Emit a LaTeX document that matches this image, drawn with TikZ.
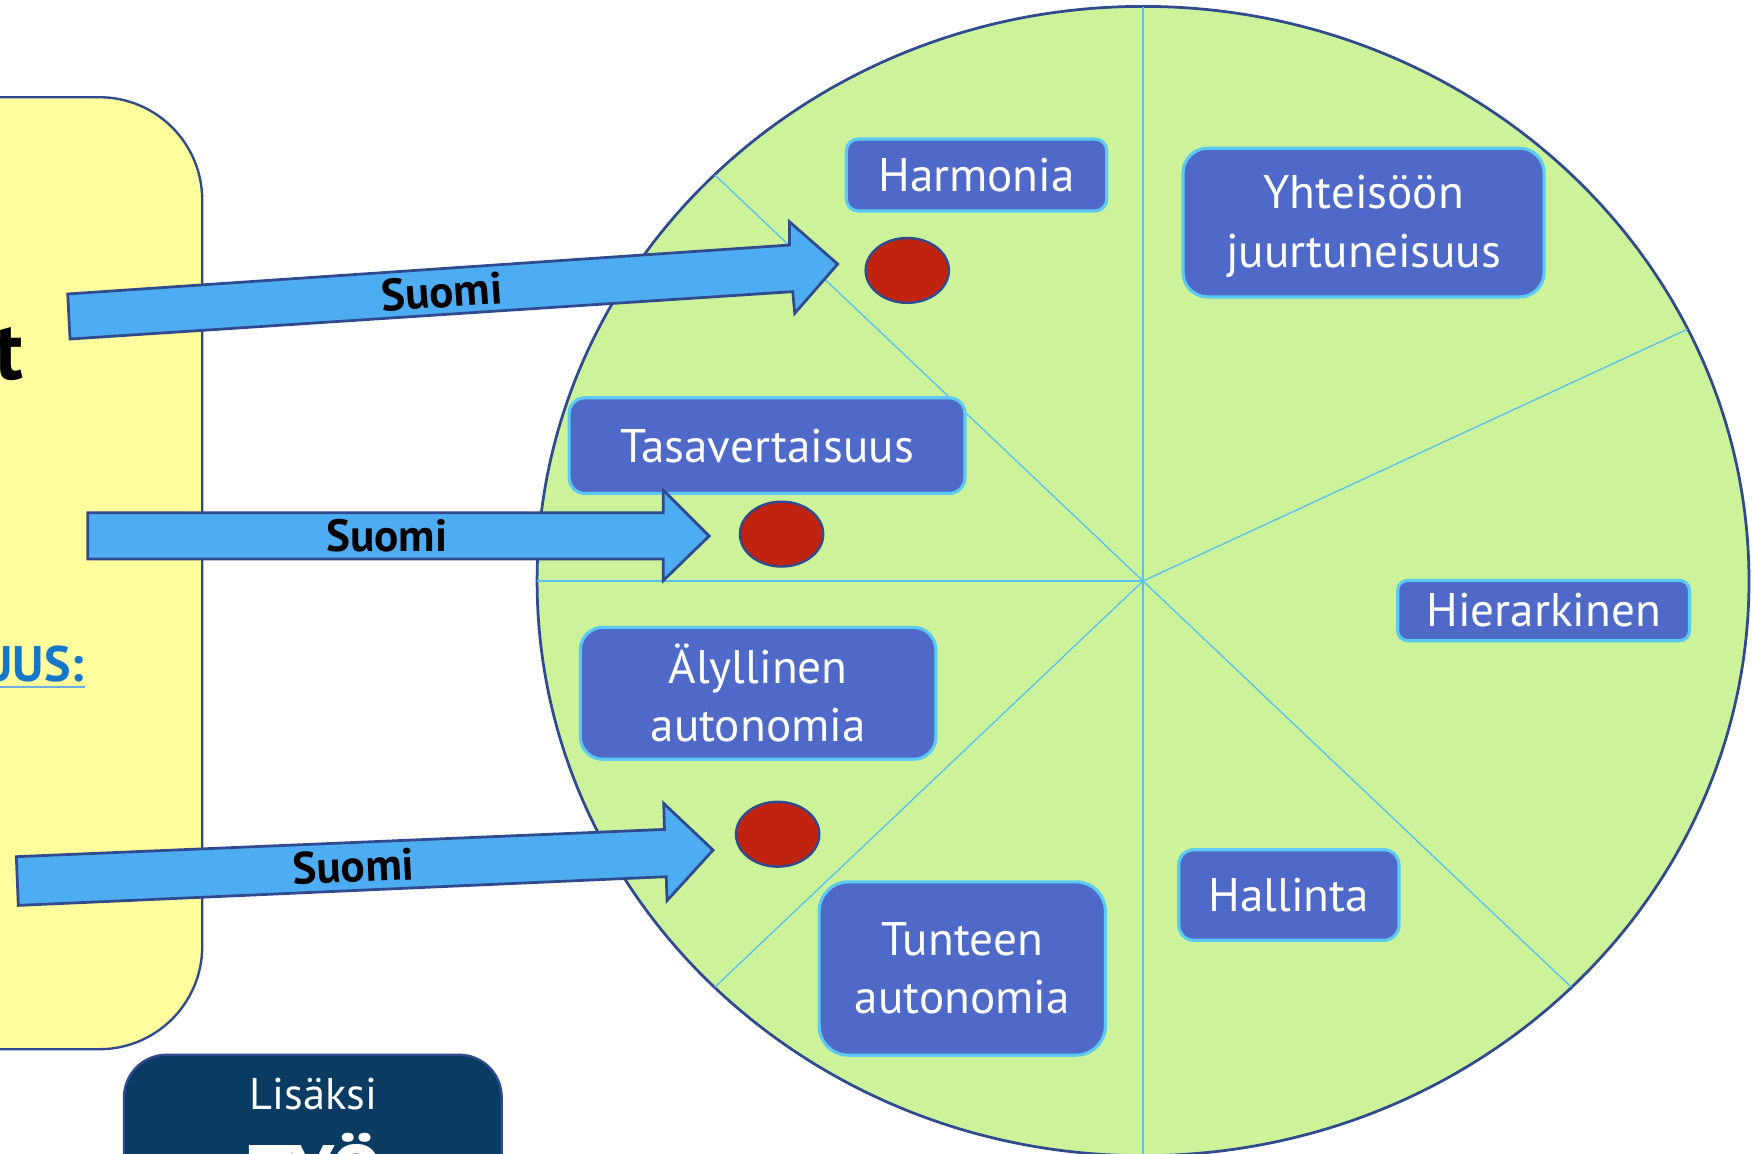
\documentclass[tikz,border=0pt]{standalone}
\usepackage{fontspec}
\setmainfont{PT Sans}
\usetikzlibrary{shapes.geometric}

\definecolor{keltainen}{HTML}{FFFE9C}
\definecolor{tummasininen}{HTML}{2F4A8F}
\definecolor{vihrea}{HTML}{CCF29A}
\definecolor{sade}{HTML}{5BC2EE}
\definecolor{laatikko}{HTML}{4F69C8}
\definecolor{reuna}{HTML}{5BCBF5}
\definecolor{punainen}{HTML}{C0230E}
\definecolor{nuoli}{HTML}{4EADF2}
\definecolor{laivasto}{HTML}{0A3B63}
\definecolor{linkki}{HTML}{1577C9}

\tikzset{
	arvo/.style = {draw = reuna, fill = laatikko, line width = 0.8pt, rounded corners = #1,
		text = white, font = \fontsize{12}{14.8}\selectfont, align = center, inner sep = 0pt},
	piste/.style = {ellipse, draw = tummasininen, fill = punainen, line width = 0.6pt,
		minimum width = 0.745cm, minimum height = 0.58cm, inner sep = 0pt},
	nuolikuva/.style = {draw = tummasininen, fill = nuoli, line width = 0.7pt, line join = miter},
	maa/.style = {font = \bfseries\fontsize{11.5}{13}\selectfont, inner sep = 0pt}
}

\begin{document}
\begin{tikzpicture}[
			x = 0.01cm,
			y = -0.01cm
			]

			\clip (0,0) rectangle (1568,1032);
			\fill[white] (0,0) rectangle (1568,1032);

			\draw[draw = tummasininen, fill = keltainen, line width = 0.6pt, rounded corners = 0.92cm] (-200,87) rectangle (181,939);
			\node[anchor = base east, font = \bfseries\fontsize{21}{25}\selectfont, inner sep = 0pt] (otsikko) at (22,340) {t};
			\node[anchor = base east, text = linkki, font = \bfseries\fontsize{12.7}{15}\selectfont, inner sep = 0pt] (uus) at (76,610) {UUS:};
			\draw[linkki!60, line width = 0.5pt] ([yshift = -1.3pt]uus.base west) -- ([yshift = -1.3pt]uus.base east);

			\draw[draw = tummasininen, fill = laivasto, line width = 0.6pt, rounded corners = 0.38cm] (111,944) rectangle (449,1250);
			\node[anchor = base, text = white, font = \fontsize{11.3}{13}\selectfont, inner sep = 0pt] (lisaksi) at (280.4,992.6) {Lisäksi};
			\node[anchor = base west, text = white, font = \bfseries\fontsize{20}{24}\selectfont, inner sep = 0pt] (tyo) at (222,1074) {TYÖ};

			\draw[draw = tummasininen, fill = vihrea, line width = 0.7pt] (1023,520) ellipse [x radius = 5.42cm, y radius = 5.14cm];
			\coordinate (keskus) at (1023,520);

			\foreach \a in {90,135,180,225,270,315,26}{
				\draw[sade, line width = 0.35pt] (keskus) -- ({1023+542*cos(\a)},{520-514*sin(\a)});
			}

			\node[arvo = 0.107cm, minimum width = 2.33cm, minimum height = 0.644cm] (harmonia) at (874,156.6) {Harmonia};
			\node[arvo = 0.22cm, minimum width = 3.23cm, minimum height = 1.33cm] (yhteiso) at (1220.4,199.2) {};
			\node[text = white, font = \fontsize{12}{14.8}\selectfont, align = center, inner sep = 0pt] (yhteisoteksti) at (1220.4,202.5) {Yhteisöön\\juurtuneisuus};
			\node[arvo = 0.14cm, minimum width = 3.54cm, minimum height = 0.855cm] (tasa) at (686.5,398.8) {Tasavertaisuus};
			\node[arvo = 0.2cm, minimum width = 3.18cm, minimum height = 1.18cm] (aly) at (678.5,620.5) {Älyllinen\\autonomia};
			\node[arvo = 0.09cm, minimum width = 2.61cm, minimum height = 0.54cm] (hier) at (1381.5,546.4) {Hierarkinen};
			\node[arvo = 0.135cm, minimum width = 1.97cm, minimum height = 0.81cm] (hall) at (1153.5,801) {Hallinta};
			\node[arvo = 0.26cm, minimum width = 2.56cm, minimum height = 1.55cm] (tunne) at (861.2,866.8) {Tunteen\\autonomia};

			\node[piste] (p1) at (812,242) {};
			\node[piste] (p2) at (699.5,478) {};
			\node[piste] (p3) at (696,746.6) {};

			\draw[nuolikuva] (60.6,263.1) -- (706.5,219.3) -- (706.5,198.4) -- (749.7,236.3) -- (711.3,280.4) -- (709.5,261) -- (62.7,303.4) -- cycle;
			\draw[nuolikuva] (78.6,458.8) -- (593.5,458.8) -- (593.5,438.6) -- (634.7,479.7) -- (593.5,519.7) -- (593.5,500.3) -- (78.6,500.3) -- cycle;
			\draw[nuolikuva] (14.6,766.7) -- (594.7,742.3) -- (594,719) -- (638.2,760.8) -- (597,806) -- (596.3,784.6) -- (16.4,810.3) -- cycle;

			\node[maa, rotate = 3.9] (suomi1) at (395.5,261) {Suomi};
			\node[maa] (suomi2) at (346.3,479.5) {Suomi};
			\node[maa, rotate = 2.55] (suomi3) at (316.4,775.4) {Suomi};

		\end{tikzpicture}
\end{document}
